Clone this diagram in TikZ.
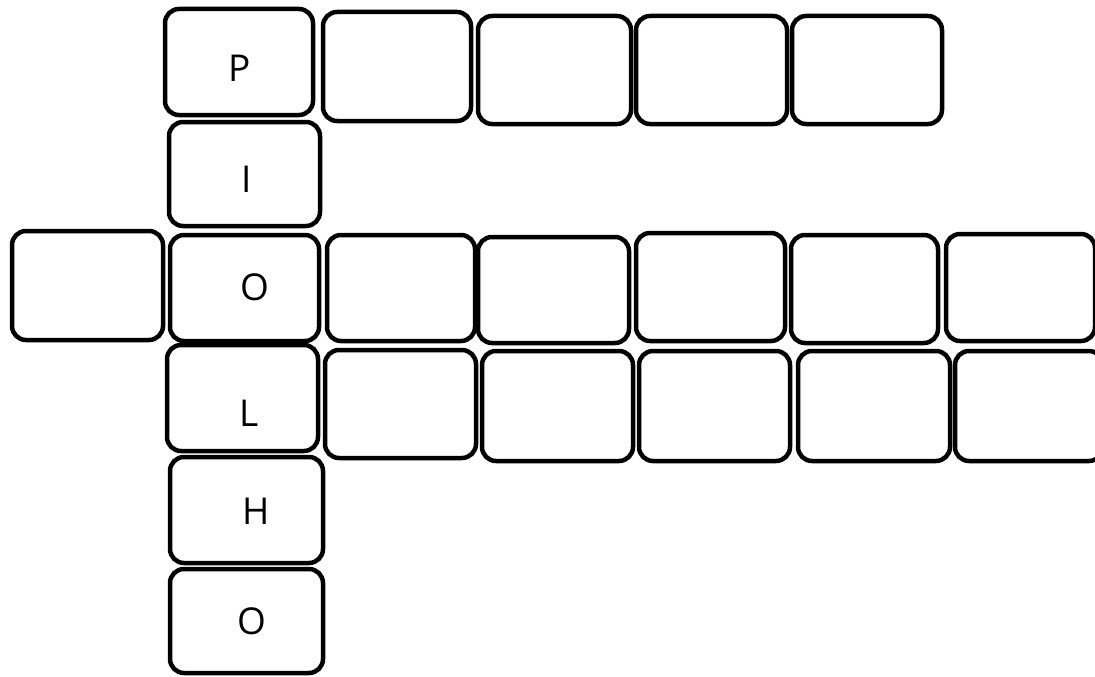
\documentclass[tikz,border=0pt]{standalone}
\usepackage{fontspec}
\setmainfont{Open Sans}
\usetikzlibrary{positioning}

\begin{document}
\begin{tikzpicture}[x=1pt,y=-1pt,
		cell/.style={draw=black,line width=4.5pt,rounded corners=14pt,fill=white,inner sep=0pt},
		letter/.style={font=\fontsize{37}{40}\selectfont,inner sep=0pt}]
		\clip (0,0) rectangle (1095,677);
		
		% boxes: name/x/y/width/height
		\foreach \n/\x/\y/\w/\h in {
			rA/239/62/148/106, rB/397/66.5/148/109, rC/554.5/70/153/108, rD/711.5/70/151/108, rE/867/70/150/108,
			cI/244.5/174/151/104,
			mL/87.5/285.5/151/109, cO/244.5/288/149/106, mB/401/288/148/106, mC/553.5/290/151/106,
			mD/710.5/287/149/108, mE/864.5/289/147/108, mF/1020.5/287.5/149/107,
			cL/242.5/398/151/106, lB/400.5/404/151/108, lC/557.5/406/151/110, lD/714.5/406/151/110,
			lE/874/406/152/110, lF/1029/406/148/110,
			cH/246.5/510/153/106,
			cOO/246.5/621/153/104}
		\node[cell,minimum width=\w pt,minimum height=\h pt] (\n) at (\x,\y) {};
		
		% letters of the word
		\foreach \n/\x/\y/\t in {tP/240/68/P, tI/247/179/I, tO/255/287/O, tL/249/413/L, tH/256/511/H, tOO/252/621/O}
		\node[letter] (\n) at (\x,\y) {\t};
	\end{tikzpicture}
\end{document}
